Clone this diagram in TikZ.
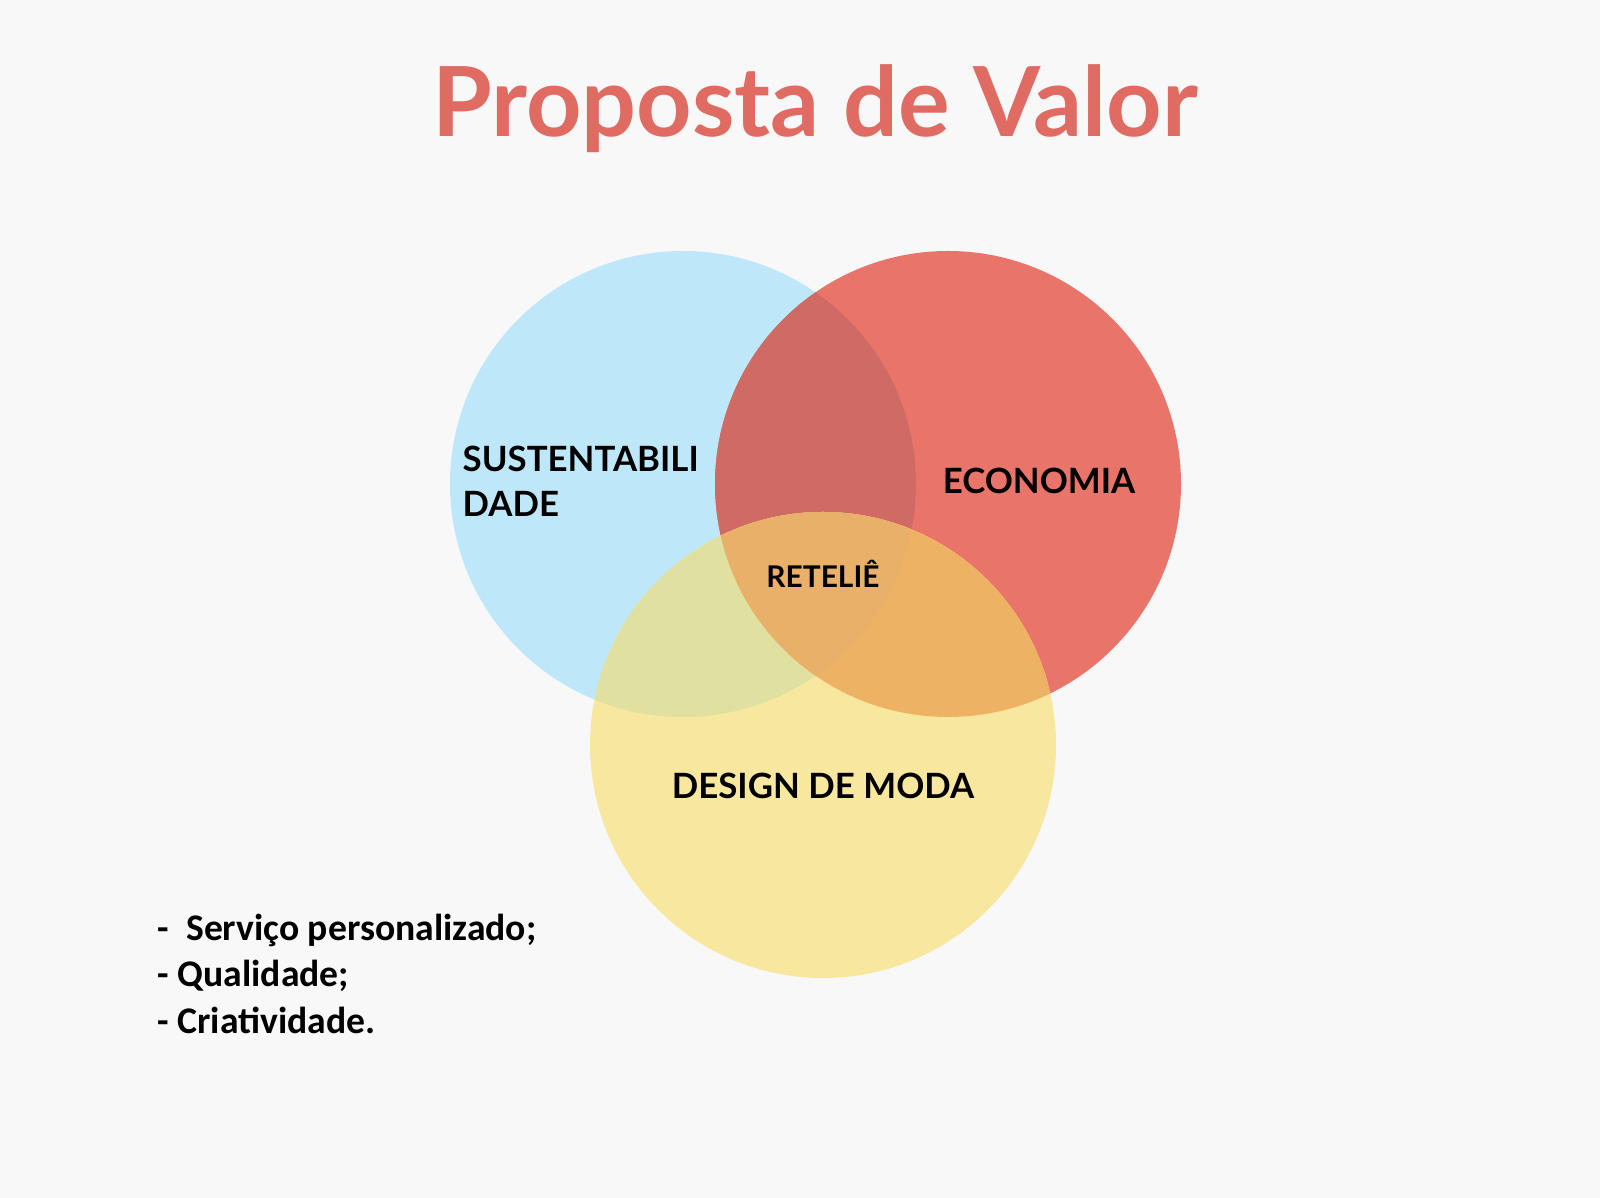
\documentclass[tikz,border=0pt]{standalone}
\usepackage{fontspec}
\setmainfont{Lato}
\newfontfamily\listfont{Carlito}
\usepackage{tikz}
\usetikzlibrary{calc}
\definecolor{fundo}{HTML}{F8F8F8}
\definecolor{titcol}{HTML}{E06B62}
\definecolor{azul}{HTML}{BEE8FA}
\definecolor{verm}{HTML}{E8746A}
\definecolor{amar}{HTML}{F7E79F}
\definecolor{azverm}{HTML}{CF6A65}
\definecolor{azamar}{HTML}{E0E0A0}
\definecolor{vermamar}{HTML}{EEB264}
\definecolor{centro}{HTML}{E8B068}
\tikzstyle{rotulo}=[font=\fontsize{9.9}{12.8}\selectfont\bfseries, text=black, inner sep=0pt]
\tikzstyle{lista}=[font=\listfont\fontsize{10.7}{12.5}\selectfont\bfseries, text=black, inner sep=0pt, align=left]
\def\rad{233}

\begin{document}
\begin{tikzpicture}[x=0.01cm,y=-0.01cm]

\fill[fundo] (0,0) rectangle (1600,1198);
\useasboundingbox (0,0) rectangle (1600,1198);

\coordinate (sust) at (683,484);
\coordinate (econ) at (948,484);
\coordinate (moda) at (823,745);

% circles
\fill[azul] (sust) circle (\rad);
\fill[verm] (econ) circle (\rad);
\begin{scope}
\clip (sust) circle (\rad);
\fill[azverm] (econ) circle (\rad);
\end{scope}
\fill[amar] (moda) circle (\rad);
\begin{scope}
\clip (moda) circle (\rad);
\fill[azamar] (sust) circle (\rad);
\fill[vermamar] (econ) circle (\rad);
\clip (sust) circle (\rad);
\fill[centro] (econ) circle (\rad);
\end{scope}

% texts
\node[font=\fontsize{27.5}{30}\selectfont\bfseries, text=titcol, anchor=base, inner sep=0pt] (titulo) at (815,137) {Proposta de Valor};

\node[rotulo, anchor=base west, align=left] (tsust) at (462,517) {SUSTENTABILI\\DADE};
\node[rotulo, anchor=base] (tecon) at (1039,494) {ECONOMIA};
\node[rotulo, anchor=base] (tmoda) at (823,799) {DESIGN DE MODA};
\node[rotulo, font=\fontsize{8.5}{10}\selectfont\bfseries, anchor=base] (tcentro) at (823,588) {RETELIÊ};

\node[lista, anchor=base west] (l1) at (157,941) {-~~Serviço personalizado;};
\node[lista, anchor=base west] (l2) at (157,987) {- Qualidade;};
\node[lista, anchor=base west] (l3) at (157,1033) {- Criatividade.};

\end{tikzpicture}
\end{document}
